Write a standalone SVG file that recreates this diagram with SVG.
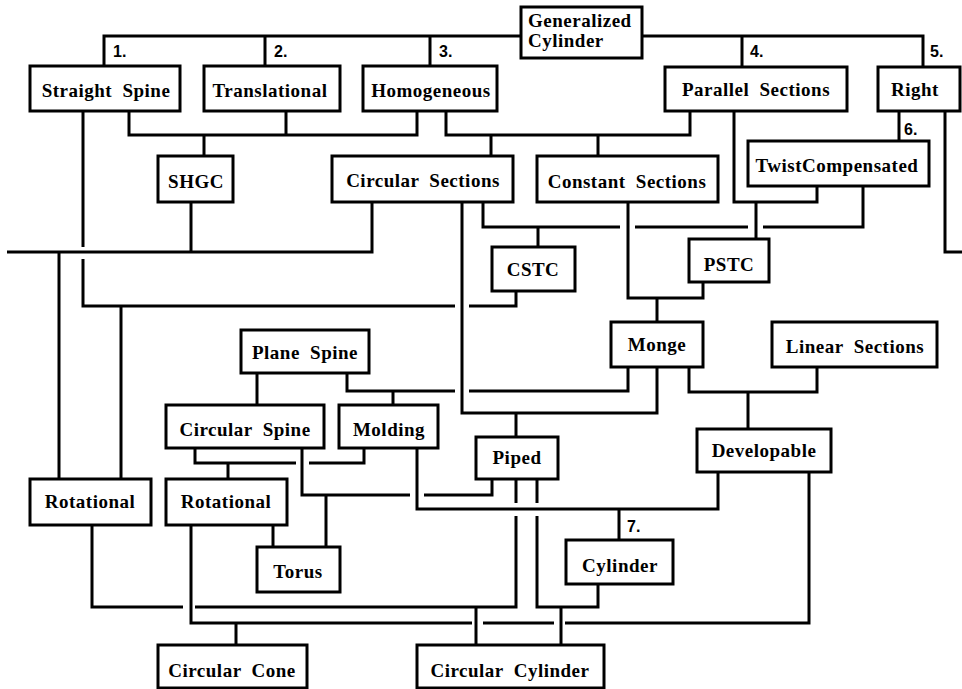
<svg xmlns="http://www.w3.org/2000/svg" width="962" height="689" viewBox="0 0 962 689">
<style>
.n rect{fill:#fff;stroke:#000;stroke-width:3}
.n text{font-family:"Liberation Serif","Times New Roman",serif;font-weight:bold;font-size:19px;text-anchor:middle;letter-spacing:0.5px;word-spacing:5px;fill:#000}
#conn path{fill:none;stroke:#000;stroke-width:3;stroke-linejoin:miter}
.num{font-family:"Liberation Sans",Arial,sans-serif;font-weight:bold;font-size:16px;fill:#000}
</style>
<rect width="962" height="689" fill="#fff"/>
<g id="conn">
<path d="M104,66 V36 H521 M265,36 V66 M430,36 V66"/>
<path d="M642,36 H923 V67 M742,36 V67"/>
<path d="M83,111 V247 M83,259 V306 H455 M469,306 H516 V291"/>
<path d="M121,306 V479"/>
<path d="M129,111 V135 H417 V111 M286,111 V135 M204,135 V156"/>
<path d="M191,202 V252"/>
<path d="M372,202 V252 H7 M59,252 V479"/>
<path d="M945,111 V252 H962"/>
<path d="M446,111 V135 H690 V111 M491,135 V156 M598,135 V156"/>
<path d="M462,202 V413 H657 V367 M516,413 V437"/>
<path d="M483,202 V227 H620 M635,227 H748 M763,227 H863 V186 M538,227 V247"/>
<path d="M734,111 V202 H817 V186 M756,202 V239"/>
<path d="M899,111 V141"/>
<path d="M628,202 V298 H703 V282 M657,298 V322"/>
<path d="M628,367 V391 H469 M455,391 H347 V373 M393,391 V405"/>
<path d="M689,367 V392 H817 V367 M748,392 V429"/>
<path d="M257,373 V405"/>
<path d="M195,448 V463 H296 M309,463 H364 V448 M228,463 V479"/>
<path d="M302,448 V495 H410 M424,495 H492 V479 M326,495 V547"/>
<path d="M417,448 V509 H718 V472 M619,509 V540"/>
<path d="M273,525 V547"/>
<path d="M516,479 V503 M516,516 V607 H195 M183,607 H92 V525 M476,607 V645"/>
<path d="M537,479 V503 M537,516 V607 H598 V584 M561,607 V645"/>
<path d="M191,525 V623 H472 M483,623 H554 M565,623 H809 V472 M236,623 V645"/>
</g>
<g id="labels">
<text class="num" x="113" y="57">1.</text>
<text class="num" x="274" y="57">2.</text>
<text class="num" x="439" y="57">3.</text>
<text class="num" x="750" y="57">4.</text>
<text class="num" x="930" y="57">5.</text>
<text class="num" x="904" y="135">6.</text>
<text class="num" x="627" y="532">7.</text>
</g>
<g id="generalized-cylinder" class="n"><rect x="521" y="7" width="121" height="51"/><text x="528" y="27" style="text-anchor:start">Generalized</text><text x="528" y="47" style="text-anchor:start">Cylinder</text></g>
<g id="straight-spine" class="n"><rect x="30" y="66" width="150" height="45"/><text x="106" y="97">Straight Spine</text></g>
<g id="translational" class="n"><rect x="204" y="66" width="136" height="45"/><text x="270" y="97">Translational</text></g>
<g id="homogeneous" class="n"><rect x="363" y="66" width="134" height="45"/><text x="431" y="97">Homogeneous</text></g>
<g id="parallel-sections" class="n"><rect x="665" y="67" width="182" height="44"/><text x="756" y="96">Parallel Sections</text></g>
<g id="right" class="n"><rect x="878" y="67" width="82" height="44"/><text x="915" y="96">Right</text></g>
<g id="shgc" class="n"><rect x="158" y="156" width="75" height="46"/><text x="196" y="188">SHGC</text></g>
<g id="circular-sections" class="n"><rect x="332" y="156" width="181" height="46"/><text x="423" y="187">Circular Sections</text></g>
<g id="constant-sections" class="n"><rect x="537" y="156" width="181" height="46"/><text x="627" y="188">Constant Sections</text></g>
<g id="twist-compensated" class="n"><rect x="748" y="141" width="181" height="45"/><text x="837" y="172">TwistCompensated</text></g>
<g id="cstc" class="n"><rect x="492" y="247" width="83" height="44"/><text x="533" y="276">CSTC</text></g>
<g id="pstc" class="n"><rect x="689" y="239" width="80" height="43"/><text x="729" y="271">PSTC</text></g>
<g id="monge" class="n"><rect x="611" y="322" width="92" height="45"/><text x="657" y="351">Monge</text></g>
<g id="linear-sections" class="n"><rect x="772" y="322" width="165" height="45"/><text x="855" y="353">Linear Sections</text></g>
<g id="plane-spine" class="n"><rect x="241" y="330" width="128" height="43"/><text x="305" y="359">Plane Spine</text></g>
<g id="circular-spine" class="n"><rect x="166" y="405" width="158" height="43"/><text x="245" y="436">Circular Spine</text></g>
<g id="molding" class="n"><rect x="339" y="405" width="99" height="43"/><text x="389" y="436">Molding</text></g>
<g id="piped" class="n"><rect x="476" y="437" width="82" height="42"/><text x="517" y="464">Piped</text></g>
<g id="developable" class="n"><rect x="697" y="429" width="134" height="43"/><text x="764" y="457">Developable</text></g>
<g id="rotational-1" class="n"><rect x="30" y="479" width="121" height="46"/><text x="90" y="508">Rotational</text></g>
<g id="rotational-2" class="n"><rect x="166" y="479" width="121" height="46"/><text x="226" y="508">Rotational</text></g>
<g id="torus" class="n"><rect x="257" y="547" width="83" height="45"/><text x="298" y="578">Torus</text></g>
<g id="cylinder" class="n"><rect x="566" y="540" width="107" height="44"/><text x="620" y="572">Cylinder</text></g>
<g id="circular-cone" class="n"><rect x="158" y="645" width="149" height="43"/><text x="232" y="677">Circular Cone</text></g>
<g id="circular-cylinder" class="n"><rect x="417" y="645" width="187" height="43"/><text x="510" y="677">Circular Cylinder</text></g>
</svg>
